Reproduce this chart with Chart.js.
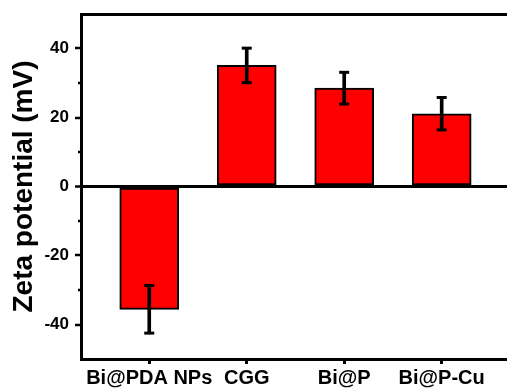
<!DOCTYPE html>
<html lang="en">
<head>
<meta charset="UTF-8">
<title>Zeta potential</title>
<script src="https://cdn.jsdelivr.net/npm/chart.js"></script>
<style>
    html, body { margin: 0; padding: 0; background: #fff; }
    #wrap { width: 507px; height: 392px; }
</style>
</head>
<body>
<div id="wrap"><canvas id="zetaChart" width="507" height="392"></canvas></div>
<script>
    // samples and measured zeta potential (mean +/- sd, mV)
    const categories = ['Bi@PDA NPs', 'CGG', 'Bi@P', 'Bi@P-Cu'];
    const zetaMean = [-35.6, 35.1, 28.5, 21.1];
    const zetaError = [6.9, 5.0, 4.6, 4.7];
    const yMajorTicks = [-40, -20, 0, 20, 40];
    const yMinorTicks = [-30, -10, 10, 30];

    const xPos = categories.map((c, i) => i + 1);

    Chart.defaults.font.family = '"Liberation Sans", Arial, sans-serif';
    Chart.defaults.color = '#000';

    // error bar stems (floating bars) and caps (line points)
    const stems = xPos.map((x, i) => ({ x: x, y: [zetaMean[i] - zetaError[i], zetaMean[i] + zetaError[i]] }));
    const caps = [];
    xPos.forEach((x, i) => {
        caps.push({ x: x, y: zetaMean[i] + zetaError[i] });
        caps.push({ x: x, y: zetaMean[i] - zetaError[i] });
    });

    const isZero = ctx => ctx.tick && ctx.tick.value === 0;

    new Chart(document.getElementById('zetaChart'), {
        type: 'bar',
        data: {
            datasets: [{
                type: 'scatter',
                data: caps,
                pointStyle: 'line',
                pointRadius: 5,
                borderColor: '#000',
                borderWidth: 3,
                order: 0
            }, {
                data: stems,
                backgroundColor: '#000',
                borderWidth: 0,
                barThickness: 3,
                grouped: false,
                order: 1
            }, {
                data: xPos.map((x, i) => ({ x: x, y: zetaMean[i] })),
                backgroundColor: '#ff0000',
                borderColor: '#000',
                borderWidth: 2,
                borderSkipped: false,
                barThickness: 59,
                grouped: false,
                order: 2
            }]
        },
        options: {
            responsive: false,
            animation: false,
            devicePixelRatio: 1,
            layout: { autoPadding: false, padding: { top: 14, right: 0, bottom: 0, left: 0 } },
            plugins: { legend: { display: false }, tooltip: { enabled: false } },
            scales: {
                x: {
                    type: 'linear',
                    position: 'bottom',
                    offset: false,
                    min: 0.3,
                    max: 4.67,
                    afterBuildTicks: s => { s.ticks = xPos.map(v => ({ value: v })); },
                    afterFit: s => { s.height = 33; s.paddingLeft = 0; s.paddingRight = 0; },
                    ticks: {
                        callback: v => categories[Math.round(v) - 1] || '',
                        font: { size: 20, weight: 'bold' },
                        autoSkip: false,
                        maxRotation: 0,
                        minRotation: 0,
                        padding: 2
                    },
                    grid: { offset: false, drawOnChartArea: false, tickLength: 5, tickWidth: 3, tickColor: '#000' },
                    border: { color: '#000', width: 3 }
                },
                x2: {
                    type: 'linear',
                    position: 'top',
                    offset: false,
                    min: 0,
                    max: 1,
                    afterFit: s => { s.height = 0; s.paddingLeft = 0; s.paddingRight = 0; },
                    ticks: { display: false },
                    grid: { offset: false, drawOnChartArea: false, drawTicks: false },
                    border: { color: '#000', width: 3 }
                },
                y: {
                    type: 'linear',
                    min: -50,
                    max: 50,
                    afterBuildTicks: s => {
                        s.ticks = yMajorTicks.concat(yMinorTicks).sort((a, b) => a - b).map(v => ({ value: v }));
                    },
                    afterFit: s => { s.width = 81; s.paddingTop = 0; s.paddingBottom = 0; },
                    ticks: {
                        callback: v => yMajorTicks.includes(v) ? String(v) : '',
                        font: { size: 17, weight: 'bold' },
                        padding: 6
                    },
                    grid: {
                        color: ctx => isZero(ctx) ? '#000' : 'rgba(0,0,0,0)',
                        lineWidth: ctx => isZero(ctx) ? 3 : 0,
                        tickColor: '#000',
                        tickWidth: 2.5,
                        tickLength: 6,
                        // minor ticks are only half as long
                        tickBorderDash: ctx => (ctx.tick && yMinorTicks.includes(ctx.tick.value)) ? [0, 3, 3, 20] : []
                    },
                    border: { color: '#000', width: 3 },
                    title: {
                        display: true,
                        text: 'Zeta potential (mV)',
                        font: { size: 28, weight: 'bold' },
                        padding: { top: 7, bottom: 0 }
                    }
                }
            }
        }
    });
</script>
</body>
</html>
